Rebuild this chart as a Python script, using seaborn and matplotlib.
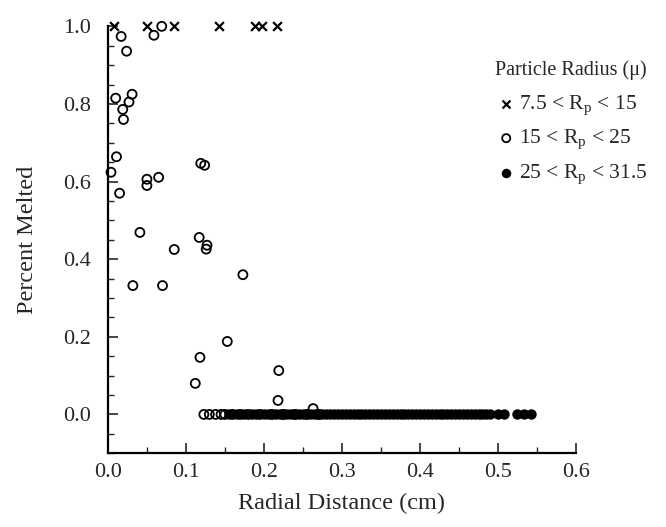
import numpy as np
import pandas as pd
import matplotlib
matplotlib.use("Agg")
import matplotlib.pyplot as plt
import seaborn as sns
from matplotlib.ticker import MultipleLocator

# 7.5 < Rp < 15
cross_x = [0.008, 0.050, 0.085, 0.143, 0.188, 0.198, 0.217]
cross_y = [1.0, 1.0, 1.0, 1.0, 1.0, 1.0, 1.0]

# 15 < Rp < 25
open_x = [0.069, 0.059, 0.017, 0.024,
          0.031, 0.027, 0.010, 0.019, 0.020,
          0.011, 0.004, 0.015, 0.050, 0.050, 0.065, 0.119, 0.124,
          0.041, 0.085, 0.117, 0.127, 0.126, 0.173, 0.032, 0.070, 0.153,
          0.118, 0.112, 0.219, 0.218, 0.263,
          0.123, 0.130, 0.138, 0.145, 0.150, 0.160, 0.170, 0.180,
          0.195, 0.210, 0.225, 0.240, 0.255, 0.270]
open_y = [1.000, 0.977, 0.974, 0.936,
          0.825, 0.805, 0.815, 0.786, 0.760,
          0.664, 0.624, 0.570, 0.606, 0.590, 0.611, 0.647, 0.642,
          0.469, 0.425, 0.456, 0.436, 0.426, 0.360, 0.332, 0.332, 0.188,
          0.147, 0.080, 0.113, 0.036, 0.015,
          0.0, 0.0, 0.0, 0.0, 0.0, 0.0, 0.0, 0.0,
          0.0, 0.0, 0.0, 0.0, 0.0, 0.0]

# 25 < Rp < 31.5
filled_x = [0.155, 0.165, 0.175, 0.185, 0.190, 0.200, 0.205, 0.210, 0.215,
            0.220, 0.225, 0.230, 0.235, 0.240, 0.245, 0.250, 0.255, 0.260,
            0.265, 0.270, 0.275, 0.280, 0.285, 0.290, 0.295, 0.300, 0.305,
            0.310, 0.315, 0.320, 0.325, 0.330, 0.335, 0.340, 0.345, 0.350,
            0.355, 0.360, 0.365, 0.370, 0.375, 0.380, 0.385, 0.390, 0.395,
            0.400, 0.405, 0.410, 0.415, 0.420, 0.425, 0.430, 0.435, 0.440,
            0.445, 0.450, 0.455, 0.460, 0.465, 0.470, 0.475, 0.480, 0.485,
            0.490, 0.500, 0.508, 0.524, 0.533, 0.542]
filled_y = [0.0] * len(filled_x)

sns.set_style("ticks")
plt.rcParams['font.family'] = ['Liberation Serif', 'DejaVu Serif']
plt.rcParams['mathtext.fontset'] = 'custom'
plt.rcParams['mathtext.rm'] = 'Liberation Serif'

fig = plt.figure(figsize=(6.66, 5.27), dpi=100)
ax = fig.add_axes([0.162, 0.140, 0.703, 0.810])

df_cross = pd.DataFrame({"x": cross_x, "y": cross_y})
df_open = pd.DataFrame({"x": open_x, "y": open_y})
df_filled = pd.DataFrame({"x": filled_x, "y": filled_y})

sns.scatterplot(data=df_cross, x="x", y="y", ax=ax, marker="x", color="black",
                s=40, linewidth=1.6, clip_on=False,
                label=r"7.5 < R$_\mathregular{p}$ < 15")
sns.scatterplot(data=df_open, x="x", y="y", ax=ax, marker="o", facecolor="none",
                edgecolor="black", s=42, linewidth=1.3, clip_on=False,
                label=r"15 < R$_\mathregular{p}$ < 25")
sns.scatterplot(data=df_filled, x="x", y="y", ax=ax, marker="o", color="black",
                edgecolor="black", s=42, linewidth=1.0, clip_on=False,
                label=r"25 < R$_\mathregular{p}$ < 31.5")

ax.set_xlim(0, 0.6)
ax.set_ylim(-0.1, 1.0)
ax.xaxis.set_minor_locator(MultipleLocator(0.05))
ax.yaxis.set_minor_locator(MultipleLocator(0.05))
ax.set_yticks([0.0, 0.2, 0.4, 0.6, 0.8, 1.0])
ax.set_yticklabels(["0.0", "0.2", "0.4", "0.6", "0.8", "1.0"])
ax.set_xticks([0.0, 0.1, 0.2, 0.3, 0.4, 0.5, 0.6])
ax.set_xticklabels(["0.0", "0.1", "0.2", "0.3", "0.4", "0.5", "0.6"])
ax.tick_params(which="major", direction="in", length=7, width=1.2, labelsize=16)
ax.tick_params(axis="y", which="major", pad=12)
ax.tick_params(axis="x", which="major", pad=7)
ax.tick_params(which="minor", direction="in", length=4, width=1.0)
sns.despine(ax=ax)
for sp in ["left", "bottom"]:
    ax.spines[sp].set_linewidth(1.6)
    ax.spines[sp].set_color("black")

ax.set_xlabel("Radial Distance (cm)", fontsize=17.5, labelpad=8)
ax.set_ylabel("Percent Melted", fontsize=17.5, labelpad=18)

ax.legend_.remove()
handles, labels = ax.get_legend_handles_labels()
leg = fig.legend(handles, labels, title="Particle Radius (\u03bc)", loc="upper left",
                 bbox_to_anchor=(0.731, 0.902), frameon=False, fontsize=15.5,
                 title_fontsize=14.5, handletextpad=0.1, handlelength=1.0,
                 labelspacing=0.48, markerscale=0.9, borderaxespad=0)
leg._legend_box.align = "left"
leg._legend_box.sep = 10

fig.savefig("out.png", dpi=100)
